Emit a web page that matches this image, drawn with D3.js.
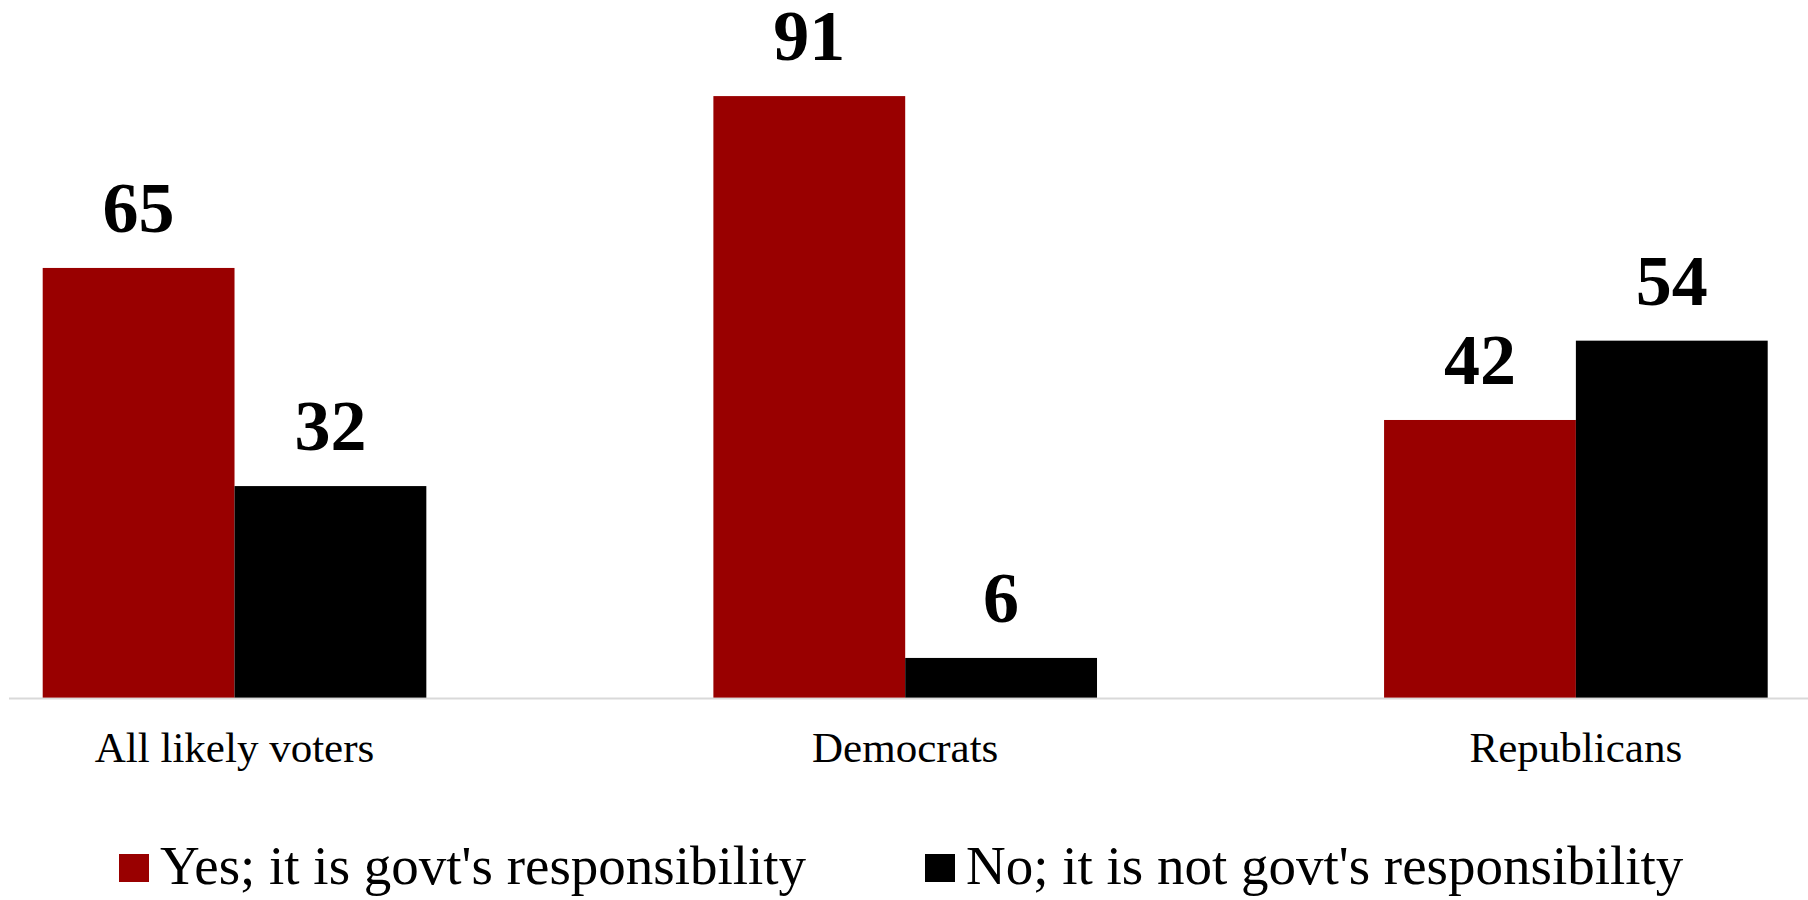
<!DOCTYPE html>
<html>
<head>
<meta charset="utf-8">
<script src="https://cdn.jsdelivr.net/npm/d3@7"></script>
<style>
  html, body { margin: 0; padding: 0; background: #fff; }
  svg { display: block; }
  text { font-family: "Liberation Serif", "Times New Roman", serif; }
</style>
</head>
<body>
<svg id="chart" width="1808" height="900"></svg>
<script>
const categories = ["All likely voters", "Democrats", "Republicans"];
const seriesNames = ["Yes; it is govt's responsibility", "No; it is not govt's responsibility"];
const yesValues = [65, 91, 42];
const noValues = [32, 6, 54];
const seriesColors = ["#990000", "#000000"];

const svg = d3.select("#chart");
const W = 1808, H = 900;
const baseY = 697.6;

const x0 = d3.scaleBand().domain(categories).range([42.7, 1767.7]).paddingInner(0.428).paddingOuter(0);
const x1 = d3.scaleBand().domain([0, 1]).range([0, x0.bandwidth()]).padding(0);
const y = d3.scaleLinear().domain([0, 100]).range([baseY, 36.6]);

const data = categories.map((c, i) => ({cat: c, vals: [yesValues[i], noValues[i]]}));

// axis line
svg.append("line")
  .attr("x1", 9).attr("x2", W)
  .attr("y1", baseY + 1).attr("y2", baseY + 1)
  .attr("stroke", "#d9d9d9").attr("stroke-width", 2);

const groups = svg.selectAll("g.grp").data(data).enter().append("g")
  .attr("class", "grp")
  .attr("transform", d => `translate(${x0(d.cat)},0)`);

groups.selectAll("rect").data(d => d.vals.map((v, k) => ({v, k}))).enter().append("rect")
  .attr("x", d => x1(d.k))
  .attr("width", x1.bandwidth())
  .attr("y", d => y(d.v))
  .attr("height", d => baseY - y(d.v))
  .attr("fill", d => seriesColors[d.k]);

groups.selectAll("text.val").data(d => d.vals.map((v, k) => ({v, k}))).enter().append("text")
  .attr("class", "val")
  .attr("x", d => x1(d.k) + x1.bandwidth() / 2)
  .attr("y", d => y(d.v) - 36)
  .attr("text-anchor", "middle")
  .attr("font-size", 72)
  .attr("font-weight", "bold")
  .attr("fill", "#000")
  .text(d => d.v);

// category labels
svg.selectAll("text.cat").data(categories).enter().append("text")
  .attr("class", "cat")
  .attr("x", d => x0(d) + x0.bandwidth() / 2)
  .attr("y", 762)
  .attr("text-anchor", "middle")
  .attr("font-size", 43)
  .attr("fill", "#000")
  .text(d => d);

// legend
const legendX = [119, 925];
const leg = svg.selectAll("g.leg").data(seriesNames).enter().append("g")
  .attr("class", "leg")
  .attr("transform", (d, i) => `translate(${legendX[i]},0)`);
leg.append("rect")
  .attr("x", 0).attr("y", 854)
  .attr("width", 30).attr("height", 28)
  .attr("fill", (d, i) => seriesColors[i]);
leg.append("text")
  .attr("x", 41).attr("y", 884)
  .attr("font-size", 55)
  .attr("fill", "#000")
  .text(d => d);
</script>
</body>
</html>
